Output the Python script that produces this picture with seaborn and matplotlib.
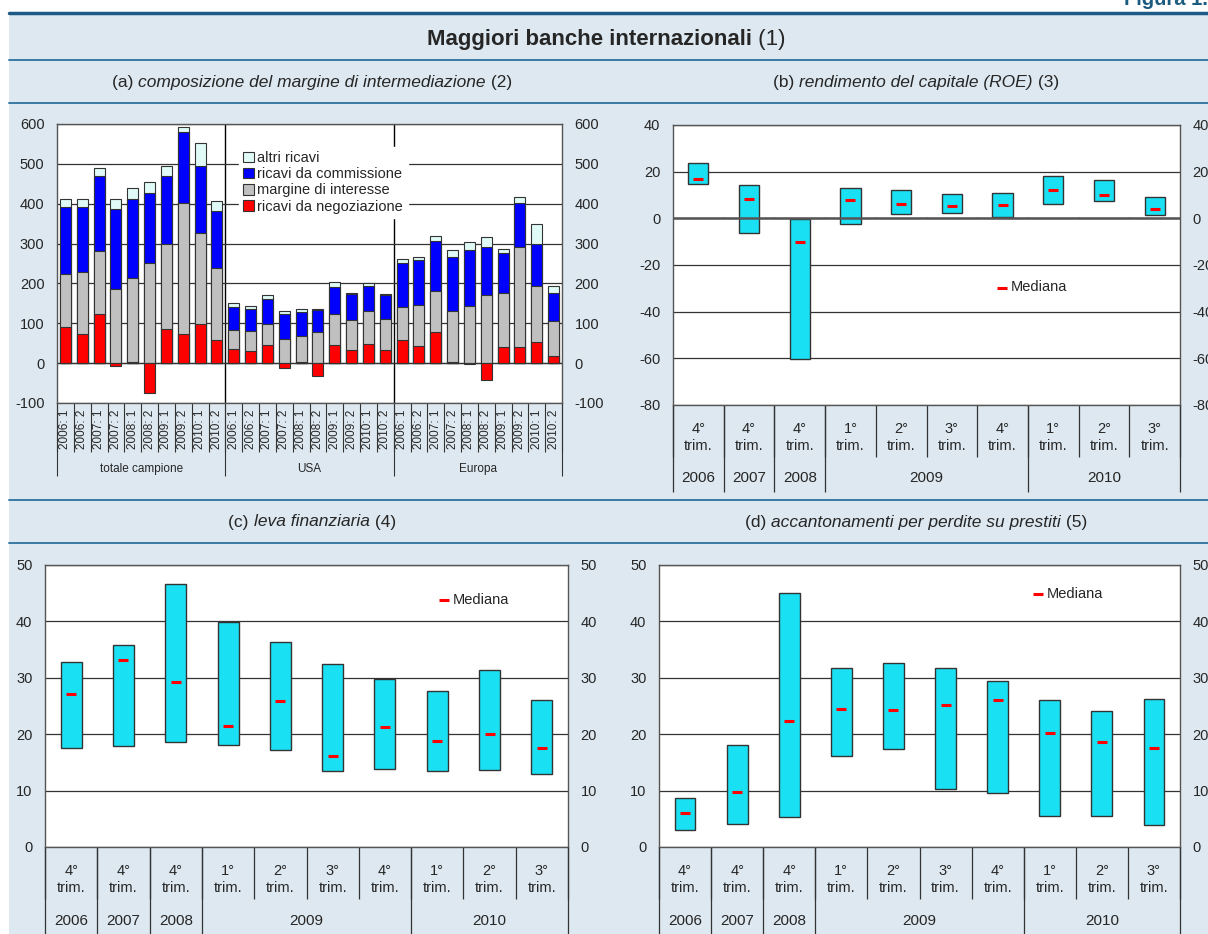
import numpy as np
import pandas as pd
import matplotlib
matplotlib.use('Agg')
import matplotlib.pyplot as plt
import matplotlib.transforms as mtransforms
from matplotlib.patches import Rectangle
from matplotlib.lines import Line2D
import seaborn as sns

# ---- data ----
# (a) composizione del margine di intermediazione
gruppi_a = ['totale campione', 'USA', 'Europa']
periodi_a = ['2006: 1', '2006: 2', '2007: 1', '2007: 2', '2008: 1',
             '2008: 2', '2009: 1', '2009: 2', '2010: 1', '2010: 2']
negoziazione = [91, 73, 123, -8, 2, -74, 86, 73, 99, 59,
                35, 30, 45, -11, 3, -32, 45, 33, 47, 32,
                57, 42, 78, 4, -2, -42, 41, 41, 52, 17]
interesse = [133, 155, 158, 187, 211, 250, 214, 328, 228, 179,
             48, 51, 53, 60, 65, 79, 78, 75, 85, 80,
             83, 104, 104, 126, 144, 171, 135, 250, 142, 88]
commissioni = [168, 165, 189, 200, 200, 178, 170, 178, 167, 144,
               57, 54, 62, 63, 60, 54, 67, 65, 61, 58,
               110, 112, 125, 137, 139, 121, 101, 112, 106, 72]
altri = [20, 19, 20, 26, 26, 26, 24, 13, 58, 26,
         10, 9, 10, 9, 7, 2, 14, 2, 7, 4,
         12, 9, 12, 16, 22, 25, 10, 15, 49, 17]

# (b), (c), (d): quarters
chiavi = ['2006T4', '2007T4', '2008T4', '2009T1', '2009T2',
          '2009T3', '2009T4', '2010T1', '2010T2', '2010T3']
trimestri = ['4°\ntrim.', '4°\ntrim.', '4°\ntrim.', '1°\ntrim.', '2°\ntrim.',
             '3°\ntrim.', '4°\ntrim.', '1°\ntrim.', '2°\ntrim.', '3°\ntrim.']
anni = ['2006', '2007', '2008', '2009', '2010']
trim_per_anno = [1, 1, 1, 4, 3]

roe_min = [14.5, -6.1, -60.2, -2.4, 2.0, 2.3, 0.6, 6.0, 7.4, 1.4]
roe_max = [23.7, 14.3, -0.3, 13.0, 12.0, 10.4, 11.0, 18.1, 16.3, 9.3]
roe_med = [17.0, 8.3, -10.0, 7.7, 6.3, 5.4, 5.6, 12.1, 10.1, 4.0]

leva_min = [17.5, 17.9, 18.6, 18.0, 17.2, 13.5, 13.9, 13.4, 13.7, 13.0]
leva_max = [32.8, 35.8, 46.7, 39.9, 36.3, 32.5, 29.7, 27.7, 31.4, 26.1]
leva_med = [27.2, 33.1, 29.3, 21.4, 25.8, 16.2, 21.3, 18.8, 20.1, 17.6]

acc_min = [3.1, 4.0, 5.4, 16.2, 17.4, 10.2, 9.6, 5.5, 5.5, 3.9]
acc_max = [8.7, 18.1, 45.1, 31.7, 32.7, 31.8, 29.5, 26.1, 24.1, 26.3]
acc_med = [6.1, 9.8, 22.3, 24.4, 24.3, 25.1, 26.0, 20.2, 18.6, 17.5]

# ---- style ----
SFONDO = '#dde8f0'
LINEA = '#3b7aa3'
CIANO = '#1ae0f4'
ALTRI = '#e0fbf7'
BLU = '#0000ff'
GRIGIO = '#c0c0c0'
ROSSO = '#ff0000'
BORDO = '#333333'

sns.set_style('white')
plt.rcParams['font.family'] = ['Liberation Sans', 'DejaVu Sans']

W, H = 1208, 934
fig = plt.figure(figsize=(W / 100, H / 100), dpi=100)
fig.patch.set_facecolor('white')
fig.patches.append(Rectangle((9 / W, 0), 1, 1 - 14 / H, transform=fig.transFigure,
                             facecolor=SFONDO, edgecolor='none', zorder=-10))


def fy(y):
    return 1 - y / H


def hline(y, lw, color=LINEA):
    fig.add_artist(Line2D([9 / W, 1], [fy(y), fy(y)], transform=fig.transFigure,
                          color=color, lw=lw))


hline(12.5, 2.5, '#1d5a85')
for yy in (60, 103, 500, 543):
    hline(yy, 1.4)

fig.text(1124 / W, fy(5), 'Figura 1.', fontsize=14.5, fontweight='bold',
         color='#1a5b80', ha='left', va='baseline')

renderer = fig.canvas.get_renderer()


def mixed(xc, y, parts, size):
    texts = []
    for s, stile, peso in parts:
        texts.append(fig.text(0, fy(y), s, fontsize=size, fontstyle=stile,
                              fontweight=peso, ha='left', va='center'))
    widths = [t.get_window_extent(renderer).width for t in texts]
    x = xc - sum(widths) / 2
    for t, w in zip(texts, widths):
        t.set_x(x / W)
        x += w


mixed(606, 40, [('Maggiori banche internazionali', 'normal', 'bold'),
                (' (1)', 'normal', 'normal')], 16)
mixed(312, 82, [('(a) ', 'normal', 'normal'),
                ('composizione del margine di intermediazione', 'italic', 'normal'),
                (' (2)', 'normal', 'normal')], 12.5)
mixed(916, 82, [('(b) ', 'normal', 'normal'),
                ('rendimento del capitale (ROE)', 'italic', 'normal'),
                (' (3)', 'normal', 'normal')], 12.5)
mixed(312, 522, [('(c) ', 'normal', 'normal'),
                 ('leva finanziaria', 'italic', 'normal'),
                 (' (4)', 'normal', 'normal')], 12.5)
mixed(916, 522, [('(d) ', 'normal', 'normal'),
                 ('accantonamenti per perdite su prestiti', 'italic', 'normal'),
                 (' (5)', 'normal', 'normal')], 12.5)


def add_ax(x0, y0, x1, y1):
    return fig.add_axes([x0 / W, fy(y1), (x1 - x0) / W, (y1 - y0) / H])


def style_ax(ax, ticks):
    ax.set_ylim(ticks[0], ticks[-1])
    ax.set_yticks(ticks)
    ax.set_yticklabels([str(t) for t in ticks])
    ax.tick_params(axis='y', length=0, labelsize=10.5, labelright=True, pad=9)
    ax.tick_params(axis='x', length=0, labelbottom=False)
    ax.set_xlabel('')
    ax.set_ylabel('')
    ax.set_facecolor('white')
    ax.grid(axis='y', color=BORDO, lw=0.9)
    ax.set_axisbelow(True)
    for sp in ax.spines.values():
        sp.set_visible(True)
        sp.set_color('#555555')
        sp.set_linewidth(1)


# ---- panel (a) ----
ax_a = add_ax(57, 124, 562, 403)
df_a = pd.DataFrame({
    'chiave': [g + '|' + p for g in gruppi_a for p in periodi_a],
    'negoziazione': negoziazione,
})
base = np.clip(np.array(negoziazione), 0, None)
df_a['interesse'] = base + np.array(interesse)
df_a['commissioni'] = df_a['interesse'] + np.array(commissioni)
df_a['altri'] = df_a['commissioni'] + np.array(altri)

strati = [('altri', ALTRI, 'altri ricavi'),
          ('commissioni', BLU, 'ricavi da commissione'),
          ('interesse', GRIGIO, 'margine di interesse'),
          ('negoziazione', ROSSO, 'ricavi da negoziazione')]
for col, colore, nome in strati:
    sns.barplot(data=df_a, x='chiave', y=col, color=colore, label=nome, width=0.66,
                saturation=1, edgecolor=BORDO, linewidth=0.8, errorbar=None, ax=ax_a)
style_ax(ax_a, list(range(-100, 601, 100)))
ax_a.set_xlim(-0.5, len(df_a) - 0.5)
ax_a.axhline(0, color=BORDO, lw=0.9, zorder=0.5)
n_a = len(periodi_a)
for k in range(1, len(gruppi_a)):
    ax_a.axvline(k * n_a - 0.5, color='black', lw=1, zorder=0.5)
ax_a.legend(loc='upper left', bbox_to_anchor=(0.345, 0.945), frameon=True,
            facecolor='white', edgecolor='white', framealpha=1, fancybox=False,
            fontsize=10.5, handlelength=0.75, handleheight=0.75, handletextpad=0.25,
            labelspacing=0.15, borderpad=0.3)

tr_a = mtransforms.blended_transform_factory(ax_a.transData, ax_a.transAxes)
for i in range(len(df_a)):
    ax_a.text(i, -0.025, periodi_a[i % n_a], rotation=90, transform=tr_a,
              ha='center', va='top', fontsize=8.5)
ax_a.vlines(np.arange(len(df_a) + 1) - 0.5, -0.176, 0, transform=tr_a,
            clip_on=False, color=BORDO, lw=0.8)
ax_a.vlines(np.arange(0, len(df_a) + 1, n_a) - 0.5, -0.26, 0, transform=tr_a,
            clip_on=False, color=BORDO, lw=0.8)
for k, g in enumerate(gruppi_a):
    ax_a.text(k * n_a + (n_a - 1) / 2, -0.235, g, transform=tr_a, ha='center',
              va='center', fontsize=8.5)


# ---- range panels ----
def range_panel(ax, lo, hi, med, ticks, leg_xy):
    df = pd.DataFrame({'periodo': chiavi, 'minimo': lo,
                       'ampiezza': np.array(hi) - np.array(lo), 'mediana': med})
    sns.barplot(data=df, x='periodo', y='ampiezza', bottom=df['minimo'].values,
                color=CIANO, saturation=1, width=0.4, edgecolor=BORDO, linewidth=1,
                errorbar=None, ax=ax)
    sns.scatterplot(data=df, x='periodo', y='mediana', marker='_', s=45,
                    color=ROSSO, linewidth=2.2, label='Mediana', zorder=5, ax=ax)
    style_ax(ax, ticks)
    ax.set_xlim(-0.5, len(df) - 0.5)
    ax.legend(loc='center left', bbox_to_anchor=leg_xy, frameon=False, fontsize=10.5,
              handlelength=0.6, handletextpad=0.3, borderpad=0, borderaxespad=0)
    tr = mtransforms.blended_transform_factory(ax.transData, ax.transAxes)
    for i, t in enumerate(trimestri):
        ax.text(i, -0.115, t, transform=tr, ha='center', va='center',
                fontsize=10.5, linespacing=1.25)
    ax.vlines(np.arange(len(df) + 1) - 0.5, -0.185, 0, transform=tr,
              clip_on=False, color=BORDO, lw=0.9)
    confini = np.concatenate([[0], np.cumsum(trim_per_anno)]) - 0.5
    ax.vlines(confini, -0.31, 0, transform=tr, clip_on=False, color=BORDO, lw=0.9)
    for a, s, e in zip(anni, confini[:-1], confini[1:]):
        ax.text((s + e) / 2, -0.262, a, transform=tr, ha='center', va='center',
                fontsize=11)
    return ax


ax_b = range_panel(add_ax(673, 125, 1180, 405), roe_min, roe_max, roe_med,
                   list(range(-80, 41, 20)), (0.64, 0.42))
ax_b.axhline(0, color='#555555', lw=1.8, zorder=1)
ax_b.vlines(np.arange(len(chiavi) - 1) + 0.5, 0, 0.6, color='#555555', lw=1, zorder=1)

range_panel(add_ax(45, 565, 568, 847), leva_min, leva_max, leva_med,
            list(range(0, 51, 10)), (0.755, 0.876))
range_panel(add_ax(659, 565, 1180, 847), acc_min, acc_max, acc_med,
            list(range(0, 51, 10)), (0.72, 0.897))

fig.savefig('out.png', dpi=100)
